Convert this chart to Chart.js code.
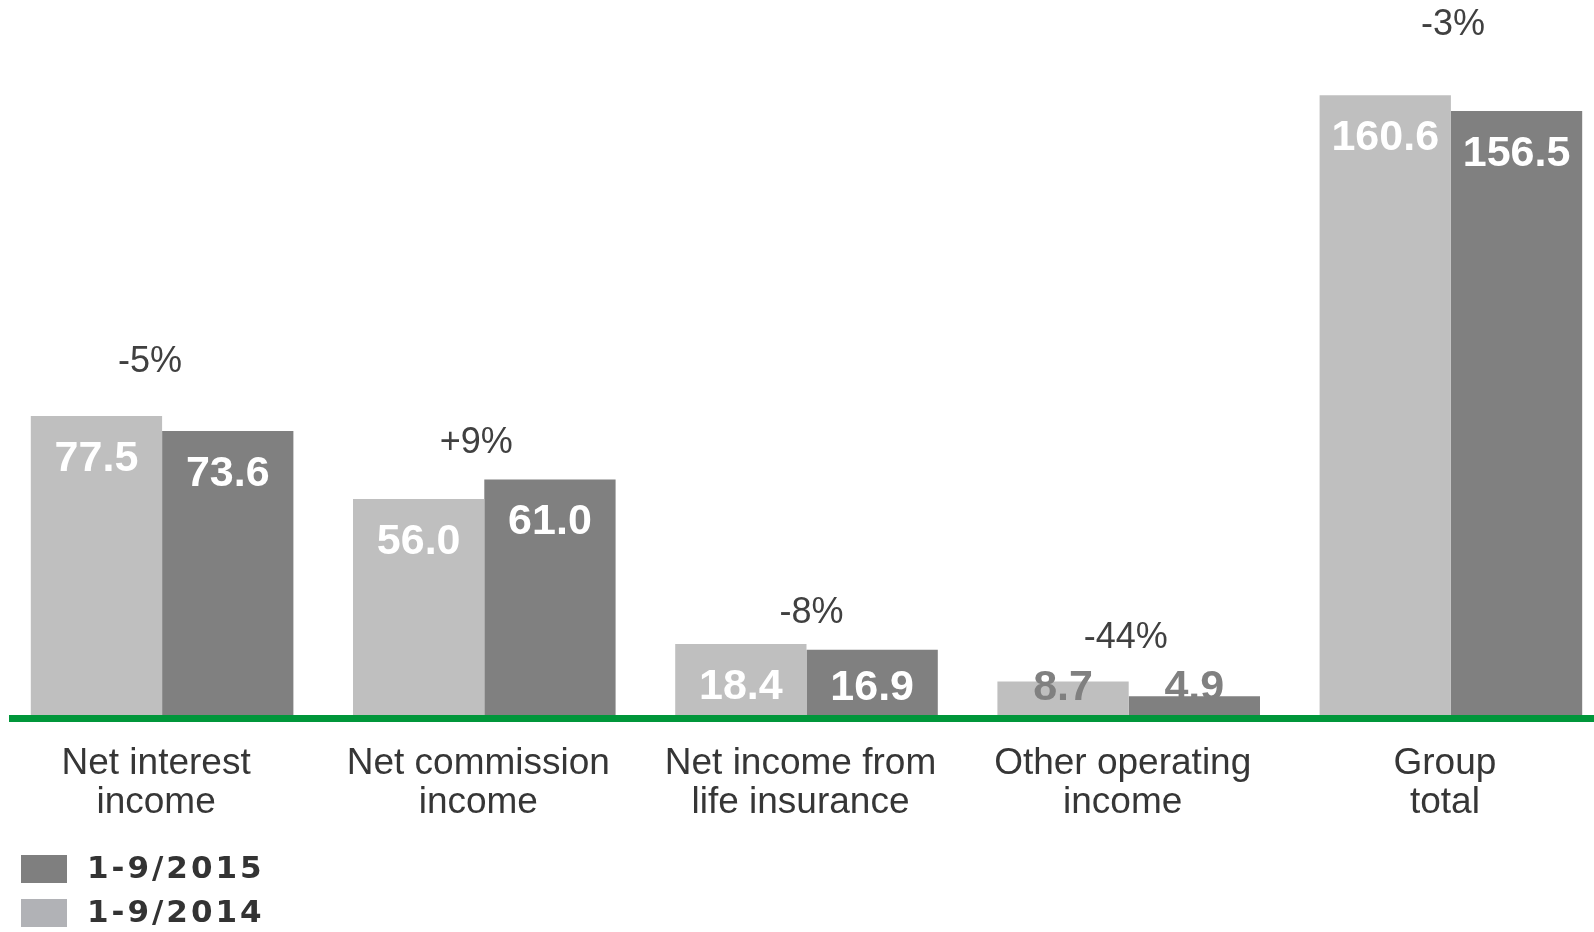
<!DOCTYPE html>
<html>
<head>
<meta charset="utf-8">
<title>Income breakdown 1-9/2015 vs 1-9/2014</title>
<script src="https://cdn.jsdelivr.net/npm/chart.js@4/dist/chart.umd.min.js"></script>
<style>
  html, body { margin: 0; padding: 0; background: #ffffff; overflow: hidden; width: 1594px; height: 932px; }
  #wrap { position: absolute; left: 0; top: 0; width: 1612px; height: 932px; }
</style>
</head>
<body>
<div id="wrap"><canvas id="chart"></canvas></div>
<script>
// Income items (EUR million), nine-month comparison
const categories = [
  ['Net interest', 'income'],
  ['Net commission', 'income'],
  ['Net income from', 'life insurance'],
  ['Other operating', 'income'],
  ['Group', 'total']
];
const seriesNames = ['1-9/2014', '1-9/2015'];
const values2014 = [77.5, 56.0, 18.4, 8.7, 160.6];
const values2015 = [73.6, 61.0, 16.9, 4.9, 156.5];
const changeLabels = ['-5%', '+9%', '-8%', '-44%', '-3%'];

const LIGHT = '#bfbfbf';
const DARK = '#808080';
const SANS = '"Liberation Sans", Arial, Helvetica, sans-serif';

// Green zero line under the bars
const baseLine = {
  id: 'baseLine',
  afterDatasetsDraw(chart, args, opts) {
    const ctx = chart.ctx;
    const y = chart.scales.y.getPixelForValue(0);
    ctx.save();
    ctx.fillStyle = opts.color;
    ctx.fillRect(opts.inset, Math.round(y), chart.width - opts.inset, opts.width);
    ctx.restore();
  }
};

// Value labels inside the top of each bar; short bars get grey text
const barValueLabels = {
  id: 'barValueLabels',
  afterDatasetsDraw(chart) {
    const ctx = chart.ctx;
    ctx.save();
    ctx.font = 'bold 43px ' + SANS;
    ctx.textAlign = 'center';
    ctx.textBaseline = 'middle';
    chart.data.datasets.forEach((ds, di) => {
      const meta = chart.getDatasetMeta(di);
      meta.data.forEach((bar, i) => {
        const h = bar.base - bar.y;
        const cy = Math.min(bar.y + 43, bar.base - 27);
        ctx.fillStyle = h < 45 ? '#808080' : '#ffffff';
        ctx.fillText(ds.data[i].toFixed(1), bar.x, cy);
      });
    });
    ctx.restore();
  }
};

// Year-on-year change above each pair of bars
const changeTags = {
  id: 'changeTags',
  afterDatasetsDraw(chart, args, opts) {
    const ctx = chart.ctx;
    const xs = chart.scales.x;
    ctx.save();
    ctx.font = '36px ' + SANS;
    ctx.fillStyle = '#404040';
    ctx.textAlign = 'center';
    ctx.textBaseline = 'middle';
    changeLabels.forEach((txt, i) => {
      let top = Infinity;
      chart.data.datasets.forEach((ds, di) => {
        top = Math.min(top, chart.getDatasetMeta(di).data[i].y);
      });
      ctx.fillText(txt, xs.getPixelForValue(i) + opts.dx[i], top - opts.lift[i]);
    });
    ctx.restore();
  }
};

// Stacked legend at the bottom left, newest period first
const cornerLegend = {
  id: 'cornerLegend',
  afterDraw(chart, args, opts) {
    const ctx = chart.ctx;
    ctx.save();
    ctx.font = 'bold 31px "DejaVu Sans", Verdana, sans-serif';
    ctx.textBaseline = 'middle';
    ctx.textAlign = 'left';
    if ('letterSpacing' in ctx) ctx.letterSpacing = '3px';
    const order = chart.data.datasets.map((d, i) => i).reverse();
    order.forEach((di, row) => {
      const ds = chart.data.datasets[di];
      const cy = opts.top + row * opts.rowGap;
      ctx.fillStyle = opts.swatch[di];
      ctx.fillRect(opts.left, cy - 14, 46, 28);
      ctx.fillStyle = '#333333';
      ctx.fillText(ds.label, opts.left + 66, cy + 1);
    });
    ctx.restore();
  }
};

new Chart(document.getElementById('chart'), {
  type: 'bar',
  data: {
    labels: categories,
    datasets: [
      { label: seriesNames[0], data: values2014, backgroundColor: LIGHT, borderWidth: 0,
        categoryPercentage: 0.815, barPercentage: 1.0 },
      { label: seriesNames[1], data: values2015, backgroundColor: DARK, borderWidth: 0,
        categoryPercentage: 0.815, barPercentage: 1.0 }
    ]
  },
  options: {
    responsive: true,
    maintainAspectRatio: false,
    animation: false,
    layout: { padding: { left: 1, right: 0, top: 1, bottom: 80 } },
    plugins: {
      legend: { display: false },
      tooltip: { enabled: false },
      baseLine: { color: '#00963a', width: 7, inset: 9 },
      changeTags: { dx: [-12, -8, 5, -3, 2], lift: [54, 37, 31, 43, 70] },
      cornerLegend: { left: 21, top: 869, rowGap: 44, swatch: ['#b1b2b6', '#7f7f7f'] }
    },
    scales: {
      x: {
        grid: { display: false, drawTicks: false },
        border: { display: false },
        ticks: {
          autoSkip: false,
          maxRotation: 0,
          padding: 30,
          labelOffset: -6,
          color: '#363636',
          font: { family: SANS, size: 37, lineHeight: 1.04 }
        }
      },
      y: { display: false, min: 0, max: 185 }
    }
  },
  plugins: [baseLine, barValueLabels, changeTags, cornerLegend]
});
</script>
</body>
</html>
